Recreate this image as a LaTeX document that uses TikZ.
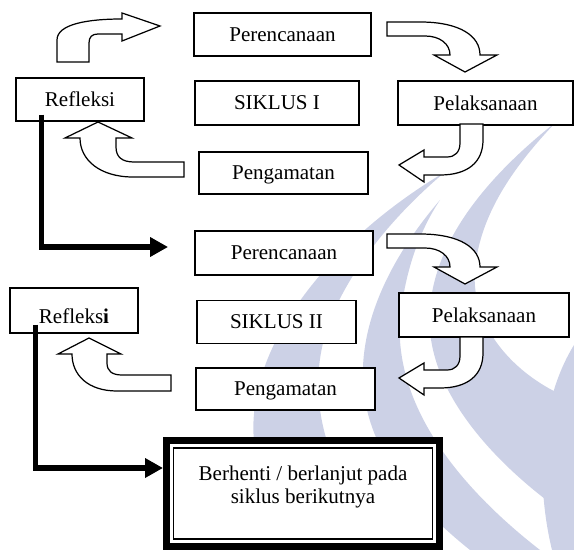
\documentclass[tikz,border=0pt]{standalone}
\usepackage{fontspec}
\setmainfont{Liberation Serif}
\usetikzlibrary{arrows.meta,calc}
\definecolor{watermark}{RGB}{204,209,230}

\begin{document}
\begin{tikzpicture}[x=0.57pt,y=-0.57pt,
  every node/.style={font=\fontsize{12}{13.1}\selectfont},
  box/.style={draw,fill=white,line width=0.7pt,inner sep=0pt,text depth=0pt},
  blockarrow/.style={draw,fill=white,line width=0.7pt,line join=miter},
  flowline/.style={line width=2.9pt,line join=miter,-{Triangle[length=10.2pt,width=10.6pt]}},
  stopbox/.style={draw,fill=white,line width=4pt,inner sep=0pt}]
\useasboundingbox (0,0) rectangle (574,550);

% logo in the background
\fill[watermark] (445,172) .. controls (330,240) and (240,350) .. (255,450)
  .. controls (262,500) and (280,530) .. (300,550) -- (390,550)
  .. controls (330,480) and (300,400) .. (330,320)
  .. controls (355,260) and (400,210) .. (445,172) -- cycle;
\fill[watermark] (440,200) .. controls (380,270) and (355,340) .. (365,400)
  .. controls (375,460) and (420,510) .. (470,550) -- (540,550)
  .. controls (450,480) and (395,400) .. (400,320)
  .. controls (405,270) and (420,230) .. (440,200) -- cycle;
\fill[watermark] (556,122) .. controls (470,190) and (425,260) .. (430,330)
  .. controls (435,400) and (500,470) .. (574,520) -- (574,400)
  .. controls (520,380) and (470,330) .. (475,270)
  .. controls (480,210) and (520,160) .. (556,122) -- cycle;
\fill[watermark] (574,345) .. controls (540,400) and (535,480) .. (552,550)
  -- (574,550) -- cycle;

% siklus I
\node[box,minimum width=100.9pt,minimum height=24.5pt] (perencanaanA) at (282.5,34.5) {Perencanaan};
\node[box,minimum width=73pt,minimum height=24.5pt] (refleksiA) at (80,99.5) {Refleksi};
\node[box,minimum width=93.5pt,minimum height=25.1pt] (siklusA) at (277,103) {SIKLUS I};
\node[box,minimum width=99.7pt,minimum height=25.1pt] (pelaksanaanA) at (485.5,103) {Pelaksanaan};
\node[box,minimum width=96.3pt,minimum height=23.9pt] (pengamatanA) at (283.5,173) {Pengamatan};

\draw[blockarrow] (57,62) -- (57,40) .. controls (57,24) and (88,19) .. (122,19)
  -- (122,13) -- (160,26) -- (122,41) -- (122,34) -- (98,34)
  .. controls (92,34) and (89,37) .. (89,43) -- (89,62) -- cycle;
\draw[blockarrow] (387,22) -- (420,22) .. controls (460,22) and (480,36) .. (480,55)
  -- (497,55) -- (465,72) -- (434,55) -- (450,55)
  .. controls (450,44) and (440,36) .. (425,36) -- (387,36) -- cycle;
\draw[blockarrow] (460,124) -- (483,124) -- (483,140) .. controls (483,162) and (468,175) .. (440,175)
  -- (424,175) -- (424,182) -- (399,165) -- (424,150) -- (424,157) -- (447,157)
  .. controls (455,157) and (460,152) .. (460,143) -- cycle;
\draw[blockarrow] (184,162) -- (184,177) -- (133,177) .. controls (100,177) and (80,160) .. (80,138)
  -- (65,138) -- (98,122) -- (132,138) -- (116,138) -- (116,147)
  .. controls (116,157) and (122,162) .. (134,162) -- cycle;

% siklus II
\node[box,minimum width=101.5pt,minimum height=25.1pt] (perencanaanB) at (284,253) {Perencanaan};
\node[box,minimum width=73pt,minimum height=25.6pt,text height=14.6pt] (refleksiB) at (74,310.5) {Refleks\textbf{i}};
\node[box,minimum width=90.6pt,minimum height=24.5pt] (siklusB) at (276.5,322) {SIKLUS II};
\node[box,minimum width=96.9pt,minimum height=25.1pt] (pelaksanaanB) at (484,315) {Pelaksanaan};
\node[box,minimum width=102pt,minimum height=23.9pt] (pengamatanB) at (285.5,389) {Pengamatan};

\draw[blockarrow,shift={(0,212)}] (387,22) -- (420,22) .. controls (460,22) and (480,36) .. (480,55)
  -- (497,55) -- (465,72) -- (434,55) -- (450,55)
  .. controls (450,44) and (440,36) .. (425,36) -- (387,36) -- cycle;
\draw[blockarrow,shift={(0,213)}] (460,124) -- (483,124) -- (483,140) .. controls (483,162) and (468,175) .. (440,175)
  -- (424,175) -- (424,182) -- (399,165) -- (424,150) -- (424,157) -- (447,157)
  .. controls (455,157) and (460,152) .. (460,143) -- cycle;
\draw[blockarrow] (171,375) -- (171,391) -- (117,391) .. controls (88,391) and (72,375) .. (72,354)
  -- (58,354) -- (89,338) -- (121,354) -- (107,354) -- (107,363)
  .. controls (107,371) and (112,375) .. (122,375) -- cycle;

% akhir
\node[stopbox,minimum width=155.6pt,minimum height=60.4pt] (berhenti) at (303,493.5) {};
\draw[line width=0.7pt] ($(berhenti.north west)+(10.5,11)$) rectangle ($(berhenti.south east)+(-10.5,-11)$);
\node[align=center] (berhentiText) at (303,486.5) {Berhenti / berlanjut pada\\siklus berikutnya};

\draw[flowline,shorten >=15pt] ($(refleksiA.south west)+(26,-7)$) |- ($(perencanaanB.west)+(0,-6)$);
\draw[flowline] ($(refleksiB.south west)+(26,-9)$) |- ($(berhenti.west)+(0,-25.5)$);
\end{tikzpicture}
\end{document}
